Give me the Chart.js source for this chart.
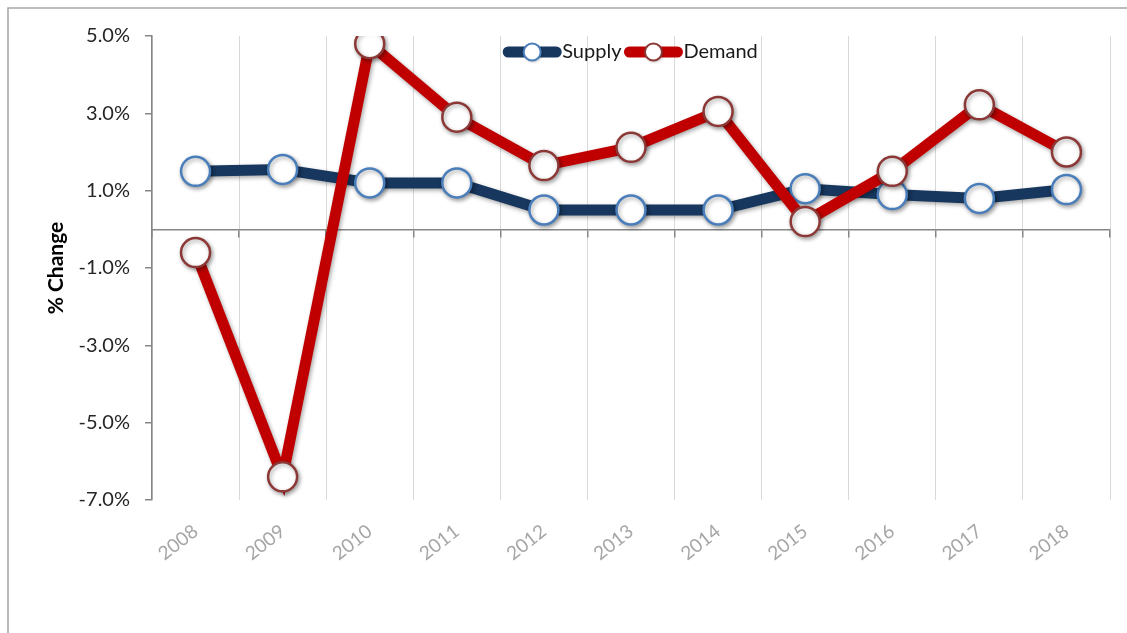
<!DOCTYPE html>
<html>
<head>
<meta charset="utf-8">
<script src="https://cdn.jsdelivr.net/npm/chart.js@4.4.1/dist/chart.umd.min.js"></script>
<style>
  html, body { margin: 0; padding: 0; background: #ffffff; }
  #wrap { position: relative; width: 1127px; height: 633px; }
</style>
</head>
<body>
<div id="wrap"><canvas id="c"></canvas></div>
<script>
const years = ['2008','2009','2010','2011','2012','2013','2014','2015','2016','2017','2018'];
const supply = [1.5, 1.55, 1.2, 1.2, 0.5, 0.5, 0.5, 1.05, 0.9, 0.8, 1.03];
const demand = [-0.6, -6.4, 4.8, 2.9, 1.65, 2.12, 3.05, 0.2, 1.5, 3.22, 2.0];
const yTicks = [-7, -5, -3, -1, 1, 3, 5];
const seriesNames = ['Supply', 'Demand'];

const NAVY = '#17375e', NAVY_BORDER = '#4a7ebb';
const RED = '#c00000', RED_BORDER = '#8c3836';
const FONT = 'Lato, "Open Sans", sans-serif';

const framePlugin = {
  id: 'frame',
  beforeDraw(chart) {
    const ctx = chart.ctx;
    ctx.save();
    ctx.fillStyle = '#ffffff';
    ctx.fillRect(0, 0, chart.width, chart.height);
    ctx.strokeStyle = '#a6a6a6';
    ctx.lineWidth = 1.5;
    ctx.beginPath();
    ctx.moveTo(8, chart.height);
    ctx.lineTo(8, 8);
    ctx.lineTo(chart.width, 8);
    ctx.stroke();
    ctx.restore();
  }
};

const shadowPlugin = {
  id: 'shadow',
  beforeDatasetDraw(chart) {
    const ctx = chart.ctx;
    ctx.save();
    ctx.shadowColor = 'rgba(0,0,0,0.35)';
    ctx.shadowBlur = 4;
    ctx.shadowOffsetX = 1.5;
    ctx.shadowOffsetY = 2;
  },
  afterDatasetDraw(chart) {
    chart.ctx.restore();
  }
};

const legendPlugin = {
  id: 'customLegend',
  afterDatasetsDraw(chart) {
    const ctx = chart.ctx;
    const ca = chart.chartArea;
    ctx.save();
    ctx.font = '20px ' + FONT;
    ctx.textBaseline = 'middle';
    const lineW = 56, gap = 2, itemGap = 4;
    const items = chart.data.datasets.map(ds => ({
      label: ds.label, color: ds.borderColor, border: ds.pointBorderColor,
      tw: ctx.measureText(ds.label).width
    }));
    let total = 0;
    items.forEach((it, i) => { total += lineW + gap + it.tw + (i < items.length - 1 ? itemGap : 0); });
    let x = (ca.left + ca.right) / 2 - total / 2;
    const y = 52;
    items.forEach(it => {
      ctx.strokeStyle = it.color;
      ctx.lineWidth = 11;
      ctx.lineCap = 'round';
      ctx.beginPath();
      ctx.moveTo(x + 4, y);
      ctx.lineTo(x + lineW - 4, y);
      ctx.stroke();
      ctx.save();
      ctx.shadowColor = 'rgba(0,0,0,0.3)';
      ctx.shadowBlur = 3;
      ctx.shadowOffsetX = 1;
      ctx.shadowOffsetY = 1.5;
      ctx.beginPath();
      ctx.arc(x + lineW / 2, y, 8.5, 0, Math.PI * 2);
      ctx.fillStyle = '#ffffff';
      ctx.fill();
      ctx.restore();
      ctx.lineWidth = 2;
      ctx.strokeStyle = it.border;
      ctx.beginPath();
      ctx.arc(x + lineW / 2, y, 8.5, 0, Math.PI * 2);
      ctx.stroke();
      ctx.fillStyle = '#1a1a1a';
      ctx.textAlign = 'left';
      ctx.fillText(it.label, x + lineW + gap, y);
      x += lineW + gap + it.tw + itemGap;
    });
    ctx.restore();
  }
};

new Chart(document.getElementById('c'), {
  type: 'line',
  data: {
    labels: years,
    datasets: [
      {
        label: seriesNames[0], data: supply, order: 1,
        borderColor: NAVY, borderWidth: 11, tension: 0,
        pointRadius: 14.5, pointHoverRadius: 14.5, pointBorderWidth: 2.5,
        pointBackgroundColor: '#ffffff', pointBorderColor: NAVY_BORDER
      },
      {
        label: seriesNames[1], data: demand, order: 0,
        borderColor: RED, borderWidth: 11, tension: 0,
        pointRadius: 14.5, pointHoverRadius: 14.5, pointBorderWidth: 2.5,
        pointBackgroundColor: '#ffffff', pointBorderColor: RED_BORDER
      }
    ]
  },
  options: {
    responsive: true,
    maintainAspectRatio: false,
    animation: false,
    layout: { padding: { left: 0, right: 16, top: 36, bottom: 0 } },
    plugins: {
      legend: { display: false },
      tooltip: { enabled: false }
    },
    scales: {
      x: {
        type: 'category',
        offset: true,
        grid: { offset: true, color: '#d9d9d9', lineWidth: 1, drawTicks: false },
        border: { display: false },
        ticks: {
          color: '#a6a6a6', font: { family: FONT, size: 19 },
          minRotation: 38, maxRotation: 38, padding: 20, autoSkip: false
        },
        afterFit(s) { s.height = 133; }
      },
      xZero: {
        type: 'category',
        position: { y: 0 },
        offset: true,
        grid: { offset: true, drawOnChartArea: false, drawTicks: true, tickLength: 7, color: '#868686', lineWidth: 1.5 },
        border: { display: true, color: '#868686', width: 1.5 },
        ticks: { display: false }
      },
      y: {
        min: -7, max: 5,
        afterBuildTicks(s) { s.ticks = yTicks.map(v => ({ value: v })); },
        grid: { drawOnChartArea: false, drawTicks: true, tickLength: 7, color: '#868686', lineWidth: 1.5 },
        border: { display: true, color: '#868686', width: 1.5 },
        ticks: {
          color: '#262626', font: { family: FONT, size: 20 }, padding: 15,
          callback: v => v.toFixed(1) + '%'
        },
        title: {
          display: true, text: '% Change', color: '#000000',
          font: { family: FONT, size: 21, weight: 'bold' },
          padding: { top: 44, bottom: 0 }
        },
        afterFit(s) { s.width = 152; }
      }
    }
  },
  plugins: [framePlugin, shadowPlugin, legendPlugin]
});
</script>
</body>
</html>
